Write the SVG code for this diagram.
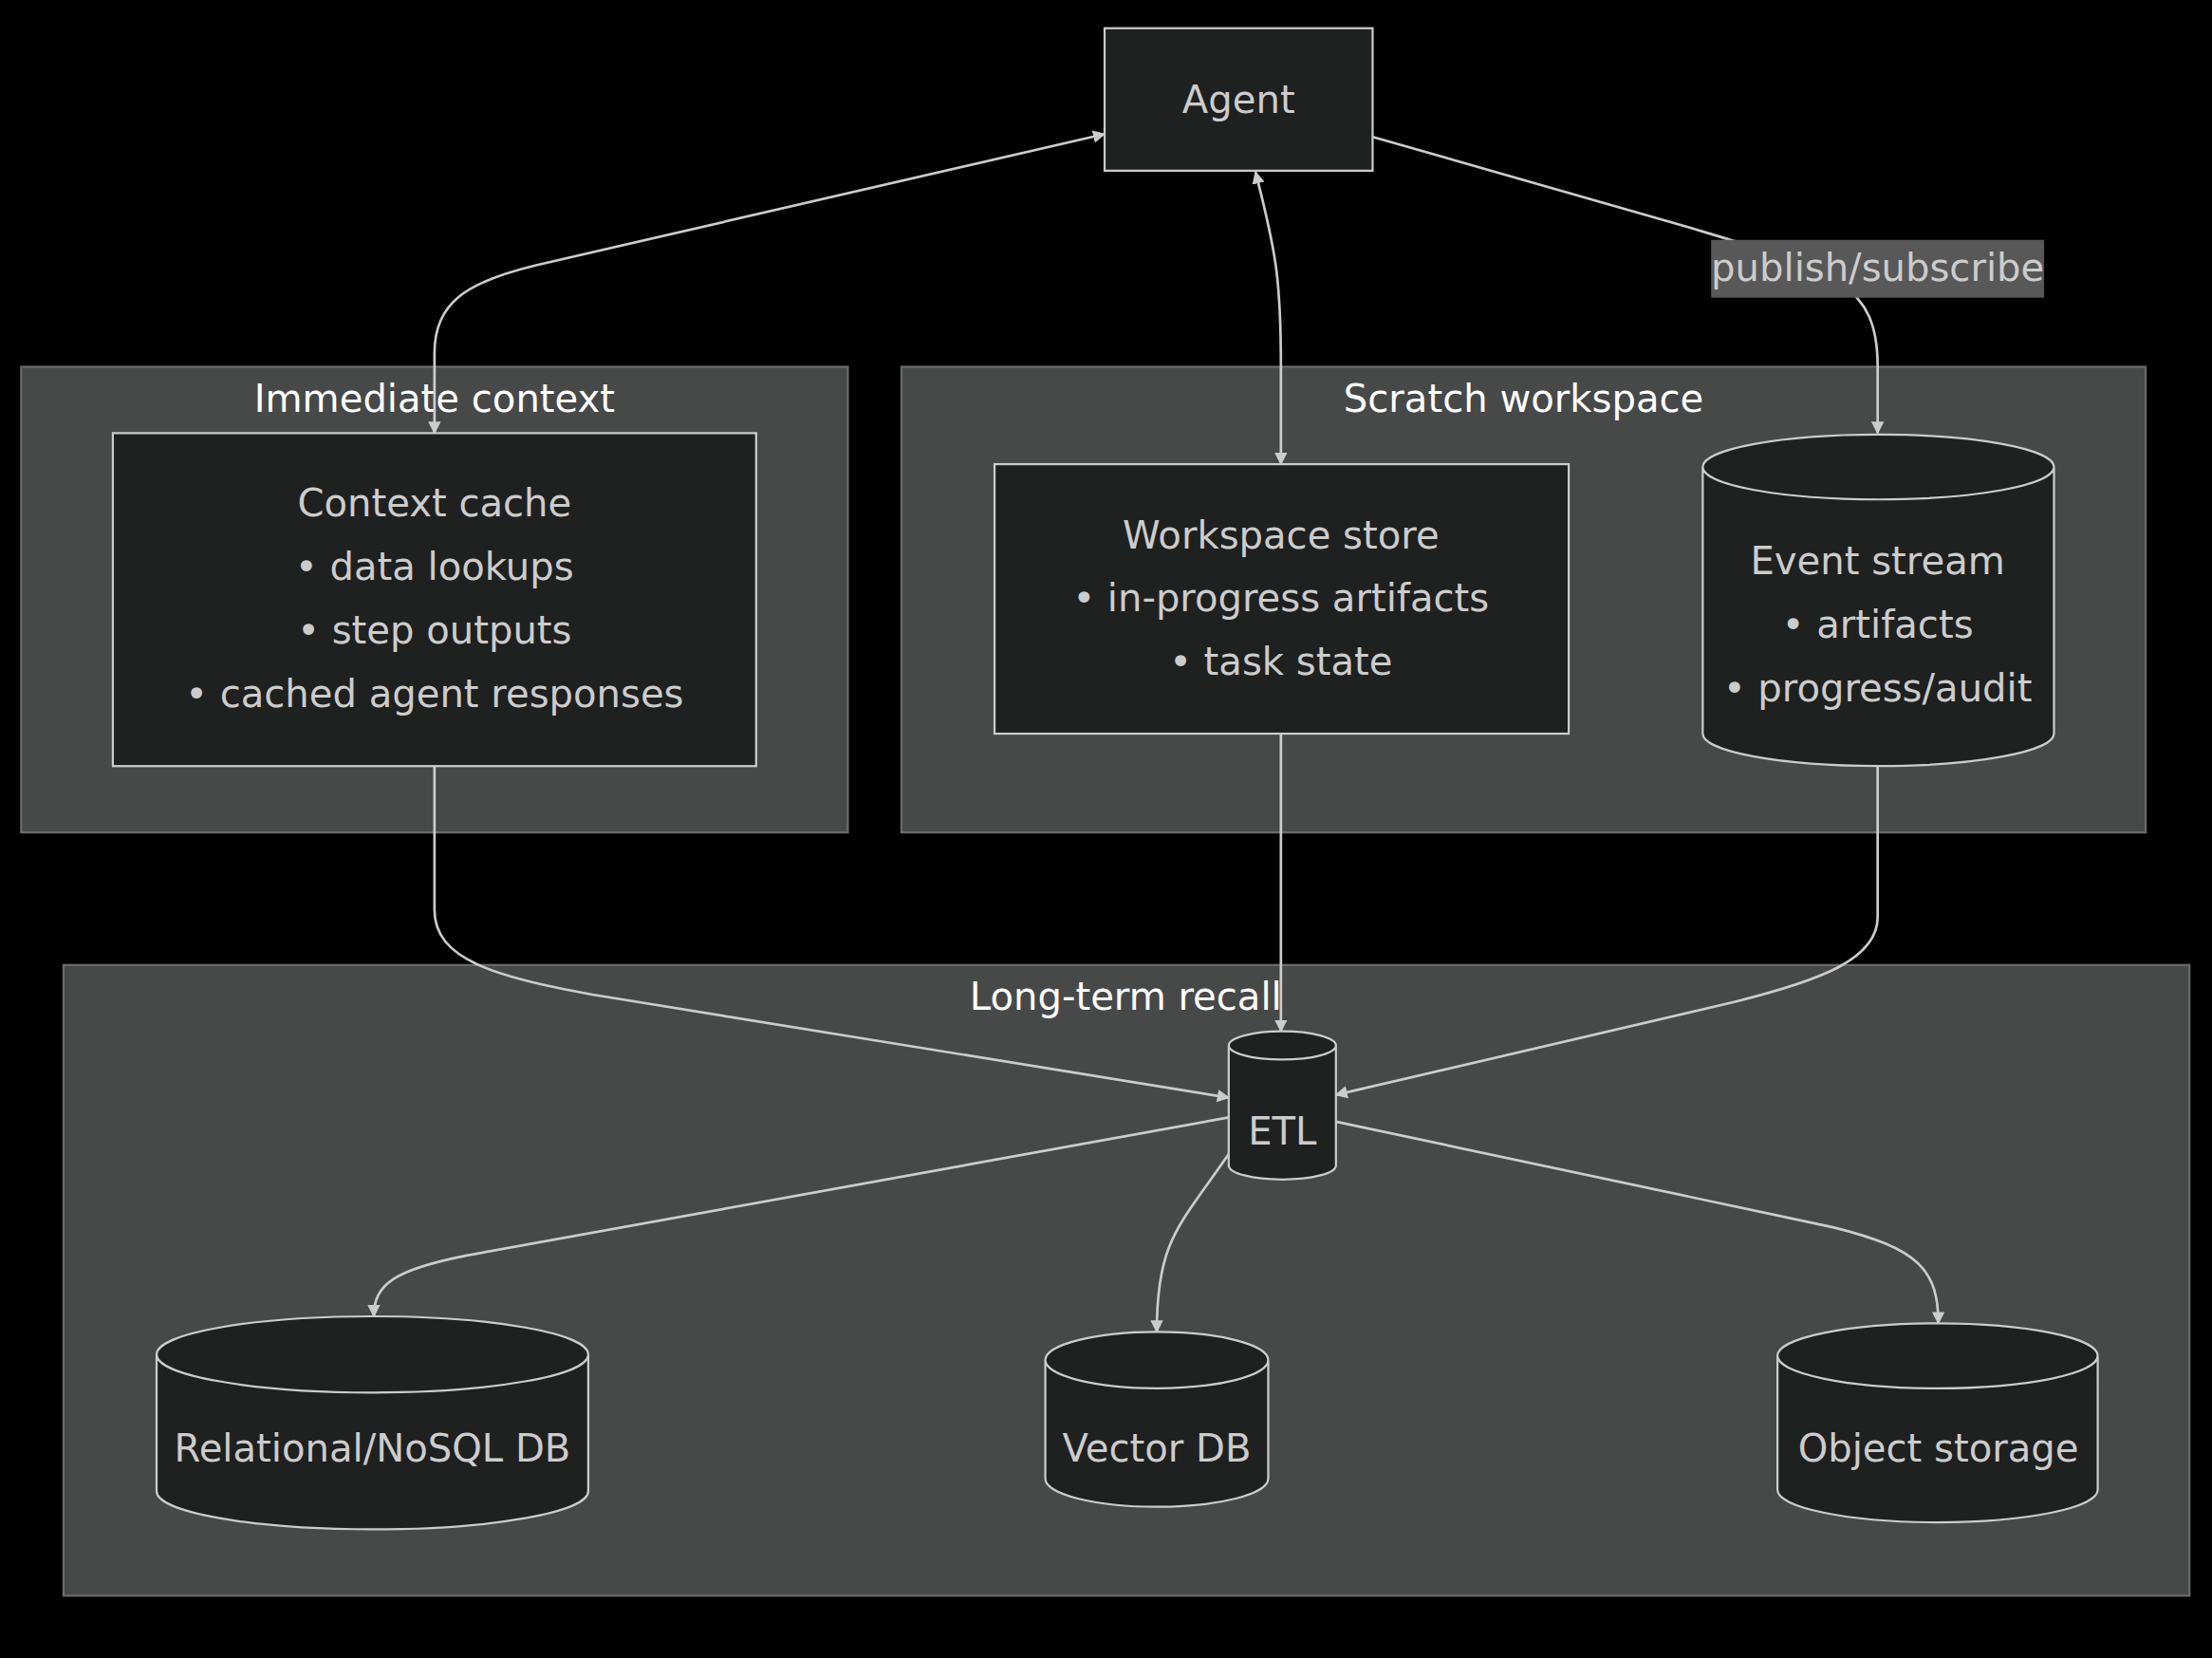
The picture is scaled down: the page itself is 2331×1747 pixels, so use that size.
<svg xmlns="http://www.w3.org/2000/svg" width="2331" height="1747" viewBox="0 0 2331 1747">
<defs>
<style>
.cl{fill:#474949;stroke:#6a6a6a;stroke-width:1.5}
.nd{fill:#1f2020;stroke:#cccccc;stroke-width:1.5}
.ct{font-family:"DejaVu Sans",sans-serif;font-size:27px;fill:#ffffff;text-anchor:middle}
.t{font-family:"DejaVu Sans",sans-serif;font-size:27px;fill:#cccccc;text-anchor:middle}
.e{fill:none;stroke:#cccccc;stroke-width:1.8}
</style>
<marker id="a" viewBox="0 0 10 10" refX="9" refY="5" markerWidth="9" markerHeight="9" orient="auto-start-reverse" markerUnits="userSpaceOnUse"><path d="M0,0L10,5L0,10z" fill="#cccccc"/></marker>
</defs>
<rect width="2331" height="1747" fill="#000"/>
<g transform="scale(1.4866)">
<g id="clusters">
<g id="immediate"><rect class="cl" x="15" y="260" width="586" height="330"/><text class="ct" x="308" y="292">Immediate context</text></g>
<g id="scratch"><rect class="cl" x="639" y="260" width="882" height="330"/><text class="ct" x="1080" y="292">Scratch workspace</text></g>
<g id="longterm"><rect class="cl" x="45" y="684" width="1507" height="447"/><text class="ct" x="798" y="716">Long-term recall</text></g>
</g>
<g id="edges">
<path class="e" marker-start="url(#a)" marker-end="url(#a)" d="M308,307 L308,250 C308,215 330,200 380,188 L783,95"/>
<path class="e" marker-start="url(#a)" marker-end="url(#a)" d="M890,122 C905,180 908,200 908,260 L908,329"/>
<path class="e" marker-end="url(#a)" d="M973,97 L1200,162 C1300,192 1331,200 1331,260 L1331,307"/>
<path class="e" marker-end="url(#a)" d="M308,543 L308,645 C308,680 350,692 420,705 L871,778"/>
<path class="e" marker-end="url(#a)" d="M908,520 L908,731"/>
<path class="e" marker-end="url(#a)" d="M1331,543 L1331,650 C1331,680 1290,695 1230,710 L947,776"/>
<path class="e" marker-end="url(#a)" d="M871,792 L330,890 C280,900 265,910 265,933"/>
<path class="e" marker-end="url(#a)" d="M871,818 C835,870 820,880 820,944"/>
<path class="e" marker-end="url(#a)" d="M947,795 L1300,870 C1360,885 1374,900 1374,938"/>
<g id="edge-label"><rect x="1213" y="170" width="236" height="41" fill="#585858"/><text class="t" x="1331" y="199">publish/subscribe</text></g>
</g>
<g id="agent"><rect class="nd" x="783" y="20" width="190" height="101"/><text class="t" x="878" y="80">Agent</text></g>
<g id="context-cache"><rect class="nd" x="80" y="307" width="456" height="236"/>
<text class="t" x="308" y="366">Context cache</text><text class="t" x="308" y="411">• data lookups</text><text class="t" x="308" y="456">• step outputs</text><text class="t" x="308" y="501">• cached agent responses</text></g>
<g id="workspace-store"><rect class="nd" x="705" y="329" width="407" height="191"/>
<text class="t" x="908" y="389">Workspace store</text><text class="t" x="908" y="433">• in-progress artifacts</text><text class="t" x="908" y="478">• task state</text></g>
<g id="event-stream"><path class="nd" d="M1207,331 a124.5,23 0 0 0 249,0 a124.5,23 0 0 0 -249,0 l0,189 a124.5,23 0 0 0 249,0 l0,-189"/>
<text class="t" x="1331" y="407">Event stream</text><text class="t" x="1331" y="452">• artifacts</text><text class="t" x="1331" y="497">• progress/audit</text></g>
<g id="etl"><path class="nd" d="M871,741 a38,10 0 0 0 76,0 a38,10 0 0 0 -76,0 l0,85 a38,10 0 0 0 76,0 l0,-85"/><text class="t" x="909" y="811">ETL</text></g>
<g id="relational"><path class="nd" d="M111,960 a153,27 0 0 0 306,0 a153,27 0 0 0 -306,0 l0,97 a153,27 0 0 0 306,0 l0,-97"/><text class="t" x="264" y="1036">Relational/NoSQL DB</text></g>
<g id="vector"><path class="nd" d="M741,964 a79,20 0 0 0 158,0 a79,20 0 0 0 -158,0 l0,84 a79,20 0 0 0 158,0 l0,-84"/><text class="t" x="820" y="1036">Vector DB</text></g>
<g id="object"><path class="nd" d="M1260,961 a113.5,23 0 0 0 227,0 a113.5,23 0 0 0 -227,0 l0,95 a113.5,23 0 0 0 227,0 l0,-95"/><text class="t" x="1374" y="1036">Object storage</text></g>
</g>
</svg>
